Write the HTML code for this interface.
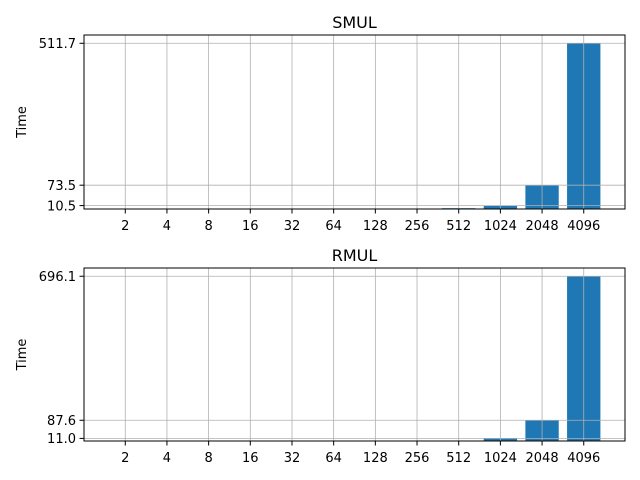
<!DOCTYPE html>
<html><head><meta charset="utf-8"><style>
body{margin:0;background:#fff}
svg{display:block;font-family:"DejaVu Sans","Liberation Sans",sans-serif}
</style></head><body>
<svg id="chart" width="640" height="480" xmlns="http://www.w3.org/2000/svg"></svg>
<script>
const categories = ["2","4","8","16","32","64","128","256","512","1024","2048","4096"];
const smulValues = [0.001,0.002,0.005,0.01,0.03,0.08,0.2,0.5,2.5,10.5,73.5,511.7];
const rmulValues = [0.001,0.002,0.005,0.01,0.03,0.08,0.2,0.4,1.4,11.0,87.6,696.1];
const smulTicks = [10.5,73.5,511.7];
const rmulTicks = [11.0,87.6,696.1];
const NS="http://www.w3.org/2000/svg";
const svg=document.getElementById('chart');
function mk(tag,attrs,parent){const e=document.createElementNS(NS,tag);for(const k in attrs)e.setAttribute(k,attrs[k]);(parent||svg).appendChild(e);return e;}
function panel(key,title,vals,ticks,top,bottom){
  const L=84,R=625;
  const g=mk('g',{});
  
  
  const n=categories.length;
  const xmin=-0.4-0.05*(n-1+0.8), xmax=n-1+0.4+0.05*(n-1+0.8);
  const x=v=>L+(v-xmin)/(xmax-xmin)*(R-L);
  const ymax=Math.max(...vals)*1.05;
  const y=v=>bottom-v/ymax*(bottom-top);
  vals.forEach((v,i)=>{
    const b=mk('rect',{x:x(i-0.4),width:x(0.8)-x(0),y:y(v),height:bottom-y(v),fill:'#1f77b4'},g);
    
    
  });
  categories.forEach((c,i)=>{
    const l=mk('line',{x1:x(i),x2:x(i),y1:top,y2:bottom,stroke:'#b0b0b0','stroke-width':0.8},g);
    
    
  });
  ticks.forEach(t=>{
    const l=mk('line',{x1:L,x2:R,y1:y(t),y2:y(t),stroke:'#b0b0b0','stroke-width':0.8},g);
    
    
  });
  const fr=mk('rect',{x:L,y:top,width:R-L,height:bottom-top,fill:'none',stroke:'#000','stroke-width':1},g);
  
  
  categories.forEach((c,i)=>{
    mk('line',{x1:x(i),x2:x(i),y1:bottom,y2:bottom+4.5,stroke:'#000','stroke-width':1},g);
    const t=mk('text',{x:x(i),y:bottom+21,'text-anchor':'middle','font-size':'13px',fill:'#000'},g);
    t.textContent=c;
    
    
  });
  ticks.forEach(v=>{
    mk('line',{x1:L-4.5,x2:L,y1:y(v),y2:y(v),stroke:'#000','stroke-width':1},g);
    const t=mk('text',{x:L-8,y:y(v)+4.7,'text-anchor':'end','font-size':'13px',fill:'#000'},g);
    t.textContent=v.toFixed(1);
    
    
  });
  const tt=mk('text',{x:(L+R)/2,y:top-7,'text-anchor':'middle','font-size':'16px',fill:'#000'},g);
  tt.textContent=title;
  
  
  const yl=mk('text',{x:0,y:0,'text-anchor':'middle','font-size':'13px',fill:'#000',transform:`translate(26,${(top+bottom)/2}) rotate(-90)`},g);
  yl.textContent='Time';
  
  
}
panel('smul','SMUL',smulValues,smulTicks,35,209);
panel('rmul','RMUL',rmulValues,rmulTicks,268,441);
</script>
</body></html>
